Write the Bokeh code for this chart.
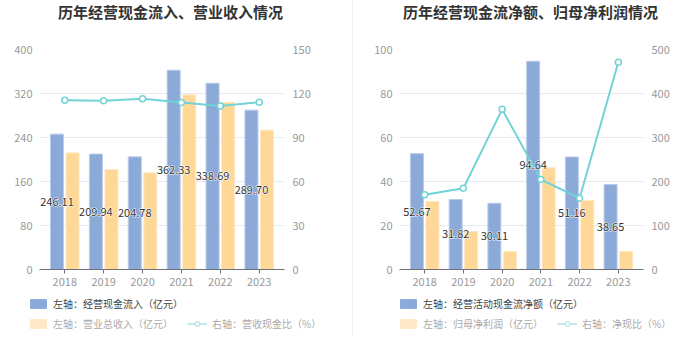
from bokeh.plotting import figure
from bokeh.models import (ColumnDataSource, FactorRange, Range1d, LinearAxis, FixedTicker,
                          Legend, LegendItem, Label, Div)
from bokeh.transform import dodge
from bokeh.layouts import row, column
from bokeh.embed import file_html
from bokeh.resources import INLINE
from bokeh.core.properties import value

years = ["2018", "2019", "2020", "2021", "2022", "2023"]

# Left chart
cash_inflow = [246.11, 209.94, 204.78, 362.33, 338.69, 289.70]
revenue = [212.0, 181.8, 175.7, 317.6, 303.6, 253.3]
cash_rev_ratio = [115.4, 115.0, 116.4, 113.9, 111.4, 114.1]

# Right chart
net_cash = [52.67, 31.82, 30.11, 94.64, 51.16, 38.65]
net_profit = [30.9, 17.3, 8.2, 46.2, 31.4, 8.2]
net_cash_ratio = [169.7, 184.8, 364.0, 204.5, 162.0, 471.0]

titles = ["历年经营现金流入、营业收入情况", "历年经营现金流净额、归母净利润情况"]
legend_left = ["左轴：经营现金流入（亿元）", "左轴：营业总收入（亿元）", "右轴：营收现金比（%）"]
legend_right = ["左轴：经营活动现金流净额（亿元）", "左轴：归母净利润（亿元）", "右轴：净现比（%）"]

FONT = "Noto Sans CJK SC"
BLUE = "#8caad8"
BLUE_EDGE = "#b9cbe9"
ORANGE = "#ffd897"
ORANGE_EDGE = "#ffe7c2"
CYAN = "#72d3d6"
FADED_ORANGE = "#fee8c8"
FADED_CYAN = "#bfeaec"


def blank(width, height):
    f = figure(width=width, height=height, x_range=Range1d(0, 1), y_range=Range1d(0, 1),
               x_axis_type=None, y_axis_type=None, min_border=0,
               output_backend="svg", toolbar_location=None, outline_line_color=None,
               background_fill_color="white", border_fill_color="white")
    f.xgrid.grid_line_color = None
    f.ygrid.grid_line_color = None
    return f


def title_fig(title, width, title_x):
    tf = blank(width, 24)
    tf.add_layout(Label(x=title_x, y=13, x_units="screen", y_units="screen", text=title,
                        text_font=FONT, text_font_size="15px", text_font_style="bold",
                        text_color="#333333", text_align="center", text_baseline="middle"))
    return tf


def chart_fig(bars1, bars2, ratio, left_max, left_step, right_max, right_step,
              width, border_left, frame_w):
    src = ColumnDataSource(dict(year=years, a=bars1, b=bars2, r=ratio,
                                mid=[v / 2 for v in bars1],
                                lab=["%.2f" % v for v in bars1]))
    p = figure(x_range=FactorRange(*years, range_padding=0.15, range_padding_units="absolute"),
               y_range=Range1d(0, left_max),
               frame_width=frame_w, frame_height=220,
               min_border_left=border_left, min_border_right=width - border_left - frame_w,
               min_border_top=25, min_border_bottom=22,
               output_backend="svg", toolbar_location=None,
               background_fill_color="white", border_fill_color="white",
               outline_line_color=None)
    p.extra_y_ranges = {"r": Range1d(0, right_max)}

    p.vbar(x=dodge("year", -0.2, range=p.x_range), top="a", width=0.335, source=src,
           fill_color=BLUE, line_color=BLUE_EDGE, line_width=1)
    p.vbar(x=dodge("year", 0.2, range=p.x_range), top="b", width=0.335, source=src,
           fill_color=ORANGE, line_color=ORANGE_EDGE, line_width=1)
    p.line(x="year", y="r", source=src, y_range_name="r", line_color=CYAN, line_width=2)
    p.scatter(x="year", y="r", source=src, y_range_name="r", size=6, marker="circle",
              fill_color="white", line_color=CYAN, line_width=1.5)
    # white halo under the value labels, then the labels themselves
    p.text(x=dodge("year", -0.2, range=p.x_range), y="mid", text="lab", source=src,
           text_font=value(FONT), text_font_size="11px", text_color="white",
           text_align="center", text_baseline="middle", text_outline_color="white")
    p.text(x=dodge("year", -0.2, range=p.x_range), y="mid", text="lab", source=src,
           text_font=value(FONT), text_font_size="11px", text_color="#333333",
           text_align="center", text_baseline="middle")

    p.yaxis.ticker = FixedTicker(ticks=list(range(0, left_max + 1, left_step)))
    p.yaxis.axis_line_color = None
    p.yaxis.major_tick_line_color = None
    p.yaxis.minor_tick_line_color = None
    p.yaxis.major_label_text_color = "#999999"
    p.yaxis.major_label_text_font = FONT
    p.yaxis.major_label_text_font_size = "11px"
    p.yaxis.major_label_standoff = 1

    ra = LinearAxis(y_range_name="r",
                    ticker=FixedTicker(ticks=list(range(0, right_max + 1, right_step))),
                    axis_line_color=None, major_tick_line_color=None, minor_tick_line_color=None,
                    major_label_text_color="#999999", major_label_text_font=FONT,
                    major_label_text_font_size="11px", major_label_standoff=2)
    p.add_layout(ra, "right")

    p.xaxis.axis_line_color = "#6e7079"
    p.xaxis.major_tick_line_color = "#6e7079"
    p.xaxis.major_tick_out = 4
    p.xaxis.major_tick_in = 0
    p.xaxis.major_label_text_color = "#999999"
    p.xaxis.major_label_text_font = FONT
    p.xaxis.major_label_text_font_size = "11px"
    p.xaxis.major_label_standoff = 4

    p.xgrid.grid_line_color = None
    p.ygrid.grid_line_color = "#e6e9f2"
    return p


def legend_fig(names, width, legend_x):
    lf = blank(width, 50)
    # placeholder renderers (kept outside the visible range) that give the legend icons
    r1 = lf.vbar(x=[-1], top=[-1], width=0.3, fill_color=BLUE, line_color=BLUE)
    r2 = lf.vbar(x=[-1], top=[-1], width=0.3, fill_color=FADED_ORANGE, line_color=FADED_ORANGE)
    rl = lf.line(x=[-2, -1], y=[-1, -1], line_color=FADED_CYAN, line_width=2)
    rm = lf.scatter(x=[-1], y=[-1], size=11, marker="circle", fill_color="white",
                    line_color=FADED_CYAN, line_width=1.5)
    common = dict(label_text_font=FONT, label_text_font_size="10px", glyph_width=20,
                  glyph_height=11, border_line_color=None, background_fill_alpha=0,
                  padding=0, margin=0, spacing=14, label_standoff=5, label_height=11,
                  orientation="horizontal")
    lg1 = Legend(items=[LegendItem(label=names[0], renderers=[r1])],
                 location=(legend_x, 30), label_text_color="#444444", **common)
    lg2 = Legend(items=[LegendItem(label=names[1], renderers=[r2]),
                        LegendItem(label=names[2], renderers=[rl, rm])],
                 location=(legend_x, 10), label_text_color="#aaaaaa", **common)
    lf.add_layout(lg1, "center")
    lf.add_layout(lg2, "center")
    return lf


def div_line(h):
    return Div(text="", width=1, height=h, margin=0, styles={"background-color": "#eeeeee"})


W1, W2 = 352, 339
t1 = title_fig(titles[0], W1, 170)
t2 = title_fig(titles[1], W2, 177)
p1 = chart_fig(cash_inflow, revenue, cash_rev_ratio, 400, 80, 150, 30, W1, 39, 245)
p2 = chart_fig(net_cash, net_profit, net_cash_ratio, 100, 20, 500, 100, W2, 46, 244)
l1 = legend_fig(legend_left, W1, 28)
l2 = legend_fig(legend_right, W2, 45)

layout = column(row(t1, div_line(24), t2, spacing=0),
                row(p1, div_line(267), p2, spacing=0),
                row(l1, div_line(44), l2, spacing=0),
                spacing=0)
open("out.html", "w").write(file_html(layout, INLINE))
